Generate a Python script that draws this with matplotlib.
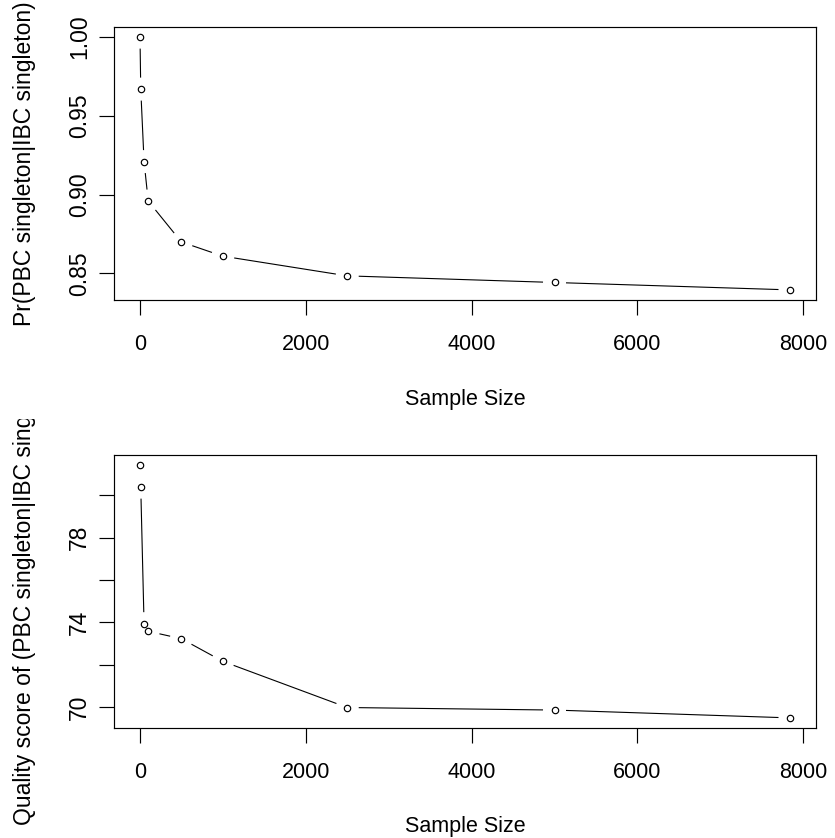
import numpy as np
import matplotlib
matplotlib.use('Agg')
import matplotlib.pyplot as plt
from matplotlib.transforms import Bbox, TransformedBbox

# data
sample_size = [1, 10, 50, 100, 500, 1000, 2500, 5000, 7840]
pr_singleton = [1.000, 0.967, 0.921, 0.896, 0.870, 0.861, 0.8485, 0.8443, 0.8396]
quality = [81.42, 80.38, 73.93, 73.57, 73.22, 72.15, 69.97, 69.85, 69.48]

x_ticks = [0, 2000, 4000, 6000, 8000]
pr_ticks = [0.85, 0.90, 0.95, 1.00]
pr_labels = ['0.85', '0.90', '0.95', '1.00']
q_ticks = [70, 72, 74, 76, 78, 80]
q_labels = ['70', '', '74', '', '78', '']  # R drops the crowded ones

plt.rcParams['font.family'] = ['Liberation Sans', 'DejaVu Sans']
FS_H = 15.5   # horizontal text
FS_V = 16.5   # rotated text (the screenshot is stretched vertically)
W, H = 835, 838


def r_lim(v):
    # R's default 4% axis extension
    lo, hi = min(v), max(v)
    pad = 0.04 * (hi - lo)
    return lo - pad, hi + pad


def type_b(ax, x, y, gap=11.5):
    '''points + line segments with gaps, like plot(type="b") in R'''
    ax.plot(x, y, 'o', ms=4.6, mfc='none', mec='black', mew=0.85, clip_on=False)
    pts = ax.transData.transform(np.column_stack([x, y]))
    inv = ax.transData.inverted()
    for p0, p1 in zip(pts[:-1], pts[1:]):
        d = np.hypot(*(p1 - p0))
        if d <= 2 * gap:
            continue
        u = (p1 - p0) / d
        seg = inv.transform(np.array([p0 + u * gap, p1 - u * gap]))
        ax.plot(seg[:, 0], seg[:, 1], color='black', lw=0.8, solid_capstyle='butt')


def style_axis(ax):
    for s in ax.spines.values():
        s.set_linewidth(0.85)
    ax.tick_params(direction='out', length=10.5, width=0.85)
    ax.tick_params(axis='x', pad=14, labelsize=FS_H)
    ax.tick_params(axis='y', pad=6, labelsize=FS_V)
    for lab in ax.get_yticklabels():
        lab.set_rotation(90)
        lab.set_va('center')


fig = plt.figure(figsize=(W / 100, H / 100), dpi=100)

ax_l, ax_w = 114 / W, (816 - 114) / W
ax1 = fig.add_axes([ax_l, 1 - 300 / H, ax_w, 273 / H])
ax2 = fig.add_axes([ax_l, 1 - 728 / H, ax_w, 273 / H])

# --- top: probability ---------------
ax1.set_xlim(r_lim(sample_size))
ax1.set_ylim(r_lim(pr_singleton))
ax1.set_xticks(x_ticks)
ax1.set_yticks(pr_ticks)
ax1.set_yticklabels(pr_labels)
style_axis(ax1)
type_b(ax1, sample_size, pr_singleton)

# --- bottom: quality score ----------
ax2.set_xlim(r_lim(sample_size))
ax2.set_ylim(r_lim(quality))
ax2.set_xticks(x_ticks)
ax2.set_yticks(q_ticks)
ax2.set_yticklabels(q_labels)
style_axis(ax2)
type_b(ax2, sample_size, quality)

xc = (114 + 816) / 2 / W
fig.text(xc, 1 - 405 / H, 'Sample Size', ha='center', va='baseline', fontsize=FS_H)
fig.text(xc, 1 - 832 / H, 'Sample Size', ha='center', va='baseline', fontsize=FS_H)

fig.text(25 / W, 1 - 163.5 / H, 'Pr(PBC singleton|IBC singleton)', rotation=90,
         ha='center', va='center', fontsize=FS_V)
t = fig.text(25 / W, 1 - 591.5 / H, 'Quality score of (PBC singleton|IBC singleton)',
             rotation=90, ha='center', va='center', fontsize=FS_V)
# the long label gets cut at the top of the lower figure region
t.set_clip_box(TransformedBbox(Bbox([[0, 0], [1, 0.5]]), fig.transFigure))
t.set_clip_on(True)

plt.savefig('out.png', dpi=100)
